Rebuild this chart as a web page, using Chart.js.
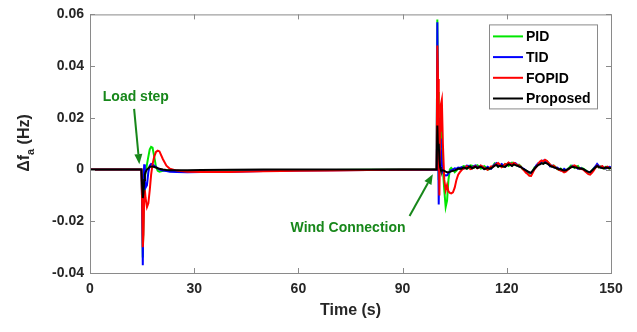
<!DOCTYPE html>
<html>
<head>
<meta charset="utf-8">
<script src="https://cdn.jsdelivr.net/npm/chart.js@4.4.1/dist/chart.umd.min.js"></script>
<style>
  html, body { margin: 0; padding: 0; background: #fff; }
  #wrap { width: 637px; height: 332px; position: relative; }
</style>
</head>
<body>
<div id="wrap"><canvas id="freqChart"></canvas></div>
<script>
// time axis (s)
const time = [0, 14.8, 15.0, 15.2, 15.4, 15.6, 15.8, 16.0, 16.4, 16.8, 17.2, 17.6, 18.0, 18.5, 19.0, 19.5, 20, 21, 22, 23, 25, 28, 32, 40, 50, 60, 70, 80, 90, 99.8,
  100.0, 100.2, 100.4, 100.6, 100.8, 101.0, 101.3, 101.6, 102.0, 102.4, 102.8, 103.2, 103.6, 104.0, 104.5, 105, 105.5, 106,
  106.5, 107, 107.5, 108, 108.5, 109, 109.5, 110,
  110.5, 111, 111.5, 112, 112.5, 113, 113.5, 114,
  114.5, 115, 115.5, 116, 116.5, 117, 117.5, 118,
  118.5, 119, 119.5, 120, 120.5, 121, 121.5, 122,
  122.5, 123, 123.5, 124, 124.5, 125, 125.5, 126,
  126.5, 127, 127.5, 128, 128.5, 129, 129.5, 130,
  130.5, 131, 131.5, 132, 132.5, 133, 133.5, 134,
  134.5, 135, 135.5, 136, 136.5, 137, 137.5, 138,
  138.5, 139, 139.5, 140, 140.5, 141, 141.5, 142,
  142.5, 143, 143.5, 144, 144.5, 145, 145.5, 146,
  146.5, 147, 147.5, 148, 148.5, 149, 149.5, 150];

// delta f (Hz)
const pid = [0, 0, -0.010, -0.034, -0.020, -0.008, -0.004, -0.001, 0.002, 0.005, 0.0078, 0.0088, 0.0085, 0.005, 0.001, -0.0005, -0.0008, -0.0005, -0.0003, -0.0004, -0.0006, -0.0008, -0.0008, -0.0007, -0.0005, -0.0003, -0.0002, -0.0001, 0, 0,
  0.058, 0.030, -0.004, 0.016, 0.010, 0.020, 0.010, 0.000, -0.008, -0.0145, -0.012, -0.004, 0.000, 0.0006, 0.0000, -0.0010, -0.0004, 0.0006,
  0.0002, 0.0004, 0.0013, 0.0012, 0.0003, 0.0006, 0.0016, 0.0015,
  0.0007, 0.0010, 0.0017, 0.0013, 0.0004, 0.0006, 0.0013, 0.0008,
  0.0000, 0.0002, 0.0009, 0.0014, 0.0024, 0.0020, 0.0011, 0.0018,
  0.0010, 0.0012, 0.0022, 0.0021, 0.0014, 0.0019, 0.0027, 0.0025,
  0.0018, 0.0015, 0.0019, 0.0013, 0.0003, -0.0002, -0.0003, -0.0008,
  -0.0016, -0.0015, -0.0004, 0.0008, 0.0014, 0.0020, 0.0027, 0.0031,
  0.0024, 0.0030, 0.0033, 0.0026, 0.0017, 0.0011, 0.0016, 0.0010,
  0.0002, -0.0001, 0.0004, -0.0002, -0.0008, -0.0006, 0.0002, 0.0008,
  0.0016, 0.0012, 0.0006, 0.0011, 0.0014, 0.0003, 0.0007, 0.0004,
  -0.0001, -0.0006, -0.0013, -0.0012, -0.0004, 0.0004, 0.0011, 0.0016,
  0.0008, 0.0012, 0.0006, 0.0004, 0.0011, 0.0010, 0.0004, 0.0006];

const tid = [0, 0, -0.012, -0.037, -0.005, 0.002, -0.004, -0.007, -0.006, -0.001, 0.0015, 0.0022, 0.002, 0.0015, 0.001, 0.0005, 0, -0.0004, -0.0006, -0.0008, -0.0009, -0.001, -0.0009, -0.0008, -0.0006, -0.0004, -0.0003, -0.0002, -0.0001, 0,
  0.057, 0.020, -0.0135, 0.005, 0.012, 0.008, 0.002, -0.001, -0.002, -0.0023, -0.0022, -0.0015, -0.0008, -0.0003, 0.0000, 0.0005, 0.0003, 0.0008,
  0.0006, 0.0009, 0.0003, 0.0007, 0.0015, 0.0014, 0.0004, 0.0008,
  0.0013, 0.0016, 0.0008, 0.0010, 0.0015, 0.0011, 0.0002, 0.0004,
  0.0011, 0.0006, 0.0003, 0.0013, 0.0020, 0.0025, 0.0016, 0.0014,
  0.0021, 0.0017, 0.0011, 0.0018, 0.0026, 0.0024, 0.0016, 0.0022,
  0.0025, 0.0019, 0.0013, 0.0010, 0.0006, 0.0002, -0.0005, -0.0009,
  -0.0010, -0.0014, -0.0006, 0.0004, 0.0016, 0.0024, 0.0021, 0.0029,
  0.0035, 0.0034, 0.0027, 0.0022, 0.0012, 0.0016, 0.0009, 0.0006,
  0.0008, 0.0003, -0.0003, -0.0004, 0.0003, -0.0002, 0.0001, 0.0005,
  0.0010, 0.0015, 0.0012, 0.0009, 0.0003, 0.0007, 0.0004, 0.0001,
  -0.0004, -0.0007, -0.0009, -0.0011, -0.0006, 0.0003, 0.0012, 0.0022,
  0.0014, 0.0008, 0.0012, 0.0007, 0.0004, 0.0008, 0.0011, 0.0009];

const fopid = [0, 0, -0.012, -0.030, -0.025, -0.010, -0.008, -0.011, -0.0145, -0.013, -0.008, -0.002, 0.002, 0.005, 0.0068, 0.0073, 0.007, 0.004, 0.0015, 0.0003, -0.0004, -0.0008, -0.0009, -0.0009, -0.0007, -0.0005, -0.0004, -0.0002, -0.0001, 0,
  0.048, 0.035, 0.010, -0.010, 0.015, 0.025, 0.027, 0.010, -0.004, -0.008, -0.006, -0.0085, -0.009, -0.0092, -0.0088, -0.007, -0.004, -0.002,
  -0.0010, -0.0002, 0.0004, 0.0005, 0.0013, 0.0010, 0.0002, 0.0004,
  0.0010, 0.0013, 0.0005, 0.0008, 0.0016, 0.0012, 0.0006, 0.0003,
  -0.0001, 0.0005, 0.0012, 0.0010, 0.0016, 0.0021, 0.0025, 0.0019,
  0.0009, 0.0013, 0.0021, 0.0020, 0.0027, 0.0023, 0.0019, 0.0026,
  0.0022, 0.0017, 0.0016, 0.0011, 0.0003, -0.0004, -0.0012, -0.0017,
  -0.0024, -0.0025, -0.0012, 0.0002, 0.0010, 0.0021, 0.0030, 0.0035,
  0.0031, 0.0038, 0.0034, 0.0027, 0.0019, 0.0012, 0.0015, 0.0009,
  0.0003, -0.0001, -0.0004, -0.0006, -0.0011, -0.0008, -0.0002, 0.0004,
  0.0009, 0.0013, 0.0016, 0.0012, 0.0006, 0.0004, 0.0002, 0.0000,
  -0.0007, -0.0012, -0.0018, -0.0020, -0.0013, -0.0004, 0.0006, 0.0015,
  0.0009, 0.0011, 0.0013, 0.0005, 0.0008, 0.0011, 0.0005, 0.0006];

const proposed = [0, 0, -0.006, -0.011, -0.009, -0.004, -0.002, -0.001, 0, 0.0005, 0.001, 0.0012, 0.0012, 0.001, 0.0008, 0.0005, 0.0003, 0, -0.0002, -0.0003, -0.0003, -0.0003, -0.0002, -0.0001, 0, 0, 0, 0, 0, 0,
  0.017, 0.008, 0.010, 0.004, 0.001, 0.000, -0.0004, -0.0003, -0.0005, -0.0008, -0.0010, -0.0010, -0.0009, -0.0007, -0.0005, -0.0003, 0.0000, 0.0003,
  0.0004, 0.0003, 0.0008, 0.0006, 0.0004, 0.0009, 0.0012, 0.0005,
  0.0008, 0.0011, 0.0006, 0.0009, 0.0011, 0.0007, 0.0002, 0.0004,
  0.0006, 0.0003, 0.0005, 0.0010, 0.0015, 0.0018, 0.0011, 0.0014,
  0.0015, 0.0012, 0.0010, 0.0016, 0.0020, 0.0018, 0.0014, 0.0020,
  0.0017, 0.0015, 0.0012, 0.0010, 0.0005, 0.0001, -0.0003, -0.0007,
  -0.0011, -0.0012, -0.0004, 0.0004, 0.0011, 0.0017, 0.0020, 0.0024,
  0.0022, 0.0027, 0.0024, 0.0020, 0.0014, 0.0012, 0.0009, 0.0007,
  0.0004, 0.0001, 0.0002, -0.0002, -0.0004, -0.0003, 0.0001, 0.0005,
  0.0009, 0.0011, 0.0009, 0.0008, 0.0006, 0.0004, 0.0003, 0.0002,
  -0.0002, -0.0006, -0.0009, -0.0010, -0.0004, 0.0002, 0.0008, 0.0014,
  0.0010, 0.0008, 0.0006, 0.0005, 0.0008, 0.0007, 0.0005, 0.0006];

const seriesNames = ['PID', 'TID', 'FOPID', 'Proposed'];
const seriesColors = ['#00e600', '#0000ff', '#ff0000', '#000000'];
const xTicks = [0, 30, 60, 90, 120, 150];
const yTicks = [-0.04, -0.02, 0, 0.02, 0.04, 0.06];

// annotation anchors in data units: [text, text x, text y, tail x, tail y, tip x, tip y]
const loadNote = ['Load step', 13.2, 0.0281, 12.7, 0.0235, 14.2, 0.0021];
const windNote = ['Wind Connection', 74.3, -0.0227, 92.0, -0.0180, 98.7, -0.0018];

const TXT = '#262626';
const FONT = '"Liberation Sans", Arial, sans-serif';

function pts(ys) {
    return time.map((t, i) => ({ x: t, y: ys[i] }));
}

function drawNote(ctx, x, y, note) {
    const [label, tx, ty, ax, ay, bx, by] = note;
    const green = '#17871a';
    ctx.fillStyle = green;
    ctx.strokeStyle = green;
    ctx.font = 'bold 14px ' + FONT;
    ctx.textAlign = 'center';
    ctx.textBaseline = 'middle';
    ctx.fillText(label, x.getPixelForValue(tx), y.getPixelForValue(ty));
    const x0 = x.getPixelForValue(ax), y0 = y.getPixelForValue(ay);
    const x1 = x.getPixelForValue(bx), y1 = y.getPixelForValue(by);
    const ang = Math.atan2(y1 - y0, x1 - x0);
    const hl = 10, hw = 4;
    ctx.lineWidth = 2;
    ctx.beginPath();
    ctx.moveTo(x0, y0);
    ctx.lineTo(x1 - hl * Math.cos(ang), y1 - hl * Math.sin(ang));
    ctx.stroke();
    ctx.beginPath();
    ctx.moveTo(x1, y1);
    ctx.lineTo(x1 - hl * Math.cos(ang) + hw * Math.sin(ang), y1 - hl * Math.sin(ang) - hw * Math.cos(ang));
    ctx.lineTo(x1 - hl * Math.cos(ang) - hw * Math.sin(ang), y1 - hl * Math.sin(ang) + hw * Math.cos(ang));
    ctx.closePath();
    ctx.fill();
}

const decor = {
    id: 'decor',
    afterDraw(chart) {
        const { ctx, chartArea: a, scales: { x, y } } = chart;
        ctx.save();

        // axes box with inward ticks
        ctx.strokeStyle = '#8a8a8a';
        ctx.lineWidth = 1;
        ctx.strokeRect(a.left + 0.5, a.top + 0.5, a.right - a.left, a.bottom - a.top);
        ctx.beginPath();
        xTicks.forEach(v => {
            const px = Math.round(x.getPixelForValue(v)) + 0.5;
            ctx.moveTo(px, a.bottom); ctx.lineTo(px, a.bottom - 5);
            ctx.moveTo(px, a.top); ctx.lineTo(px, a.top + 5);
        });
        yTicks.forEach(v => {
            const py = Math.round(y.getPixelForValue(v)) + 0.5;
            ctx.moveTo(a.left, py); ctx.lineTo(a.left + 5, py);
            ctx.moveTo(a.right, py); ctx.lineTo(a.right - 5, py);
        });
        ctx.stroke();

        drawNote(ctx, x, y, loadNote);
        drawNote(ctx, x, y, windNote);

        // legend
        const lx = a.right - 122, ly = a.top + 10, lw = 108, lh = 84;
        ctx.fillStyle = '#fff';
        ctx.fillRect(lx, ly, lw, lh);
        ctx.strokeStyle = '#8a8a8a';
        ctx.lineWidth = 1;
        ctx.strokeRect(lx + 0.5, ly + 0.5, lw, lh);
        ctx.font = 'bold 14px ' + FONT;
        ctx.textAlign = 'left';
        ctx.textBaseline = 'middle';
        seriesNames.forEach((name, i) => {
            const ry = ly + 12 + i * 20.7;
            ctx.strokeStyle = seriesColors[i];
            ctx.lineWidth = 2;
            ctx.beginPath();
            ctx.moveTo(lx + 4, ry); ctx.lineTo(lx + 34, ry);
            ctx.stroke();
            ctx.fillStyle = '#000';
            ctx.fillText(name, lx + 37, ry + 1);
        });

        // axis titles
        ctx.fillStyle = TXT;
        ctx.font = 'bold 16px ' + FONT;
        ctx.textAlign = 'center';
        ctx.textBaseline = 'middle';
        ctx.fillText('Time (s)', (a.left + a.right) / 2, 311);

        ctx.translate(25, 143);
        ctx.rotate(-Math.PI / 2);
        ctx.textAlign = 'left';
        const big = 'bold 16px ' + FONT, small = 'bold 11px ' + FONT;
        ctx.font = big; const w1 = ctx.measureText('\u0394f').width;
        ctx.font = small; const w2 = ctx.measureText('a').width;
        ctx.font = big; const w3 = ctx.measureText(' (Hz)').width;
        let sx = -(w1 + w2 + w3) / 2;
        ctx.font = big; ctx.fillText('\u0394f', sx, 0); sx += w1;
        ctx.font = small; ctx.fillText('a', sx, 6); sx += w2;
        ctx.font = big; ctx.fillText(' (Hz)', sx, 0);

        ctx.restore();
    }
};

const allSeries = [pid, tid, fopid, proposed];

new Chart(document.getElementById('freqChart').getContext('2d'), {
    type: 'line',
    data: {
        datasets: allSeries.map((s, i) => ({
            label: seriesNames[i],
            data: pts(s),
            borderColor: seriesColors[i],
            borderWidth: 2,
            pointRadius: 0,
            fill: false,
            tension: 0,
            order: 4 - i
        }))
    },
    options: {
        responsive: true,
        maintainAspectRatio: false,
        animation: false,
        events: [],
        layout: { padding: { left: 0, top: 13, right: 26, bottom: 0 } },
        plugins: { legend: { display: false }, tooltip: { enabled: false } },
        scales: {
            x: {
                type: 'linear', min: 0, max: 150,
                afterBuildTicks: s => { s.ticks = xTicks.map(v => ({ value: v })); },
                afterFit: s => { s.height = 59; },
                grid: { display: false, drawTicks: false },
                border: { display: false },
                ticks: { color: TXT, padding: 8, font: { family: FONT, size: 14, weight: 'bold' }, maxRotation: 0 }
            },
            y: {
                type: 'linear', min: -0.04, max: 0.06,
                afterBuildTicks: s => { s.ticks = yTicks.map(v => ({ value: v })); },
                afterFit: s => { s.width = 90; },
                grid: { display: false, drawTicks: false },
                border: { display: false },
                ticks: {
                    color: TXT, padding: 6, font: { family: FONT, size: 14, weight: 'bold' },
                    callback: v => (Math.abs(v) < 1e-9 ? '0' : v.toFixed(2))
                }
            }
        }
    },
    plugins: [decor]
});
</script>
</body>
</html>
